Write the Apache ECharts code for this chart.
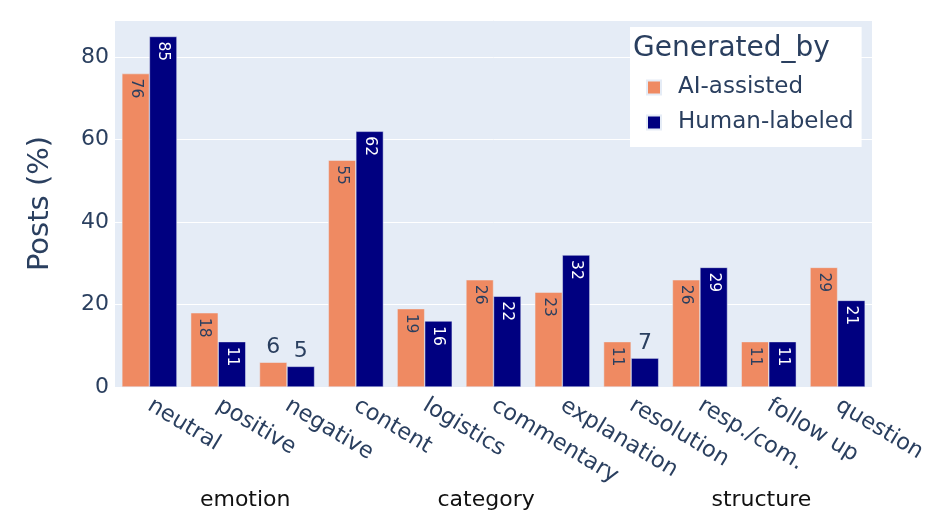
<!DOCTYPE html>
<html>
<head>
<meta charset="utf-8">
<script src="https://cdn.jsdelivr.net/npm/echarts@6/dist/echarts.min.js"></script>
<style>
html,body{margin:0;padding:0;background:#fff;}
#chart{width:935px;height:522px;}
</style>
</head>
<body>
<div id="chart"></div>
<script>
const categories = ['neutral','positive','negative','content','logistics','commentary','explanation','resolution','resp./com.','follow up','question'];
const aiAssisted = [76,18,6,55,19,26,23,11,26,11,29];
const humanLabeled = [85,11,5,62,16,22,32,7,29,11,21];
const groupNames = ['emotion','category','structure'];
const groupFirst = [0,3,7];
const groupLast = [2,6,10];
const yTicks = [0,20,40,60,80];
const legendTitle = 'Generated_by';
const seriesNames = ['AI-assisted','Human-labeled'];

const FONT = 'DejaVu Sans';
const TXT = '#2a3f5f';

function makeData(vals, insideColor){
  return vals.map(v => {
    if (v < 10) {
      return {value: v, label: {show: true, position: 'top', rotate: 0, fontSize: 22, color: TXT, distance: 4, align: 'center', verticalAlign: 'bottom'}};
    }
    return {value: v, label: {show: true, position: 'insideTop', rotate: -90, align: 'left', verticalAlign: 'middle', distance: 5, fontSize: 15.5, color: insideColor}};
  });
}

const chart = echarts.init(document.getElementById('chart'), null, {renderer: 'canvas'});
const option = {
  animation: false,
  textStyle: {fontFamily: FONT},
  grid: {left: 115, right: 63, top: 20, bottom: 135, show: true, backgroundColor: '#E5ECF6', borderWidth: 0},
  legend: {
    orient: 'vertical', left: 630, top: 27,
    backgroundColor: '#ffffff',
    padding: [49, 8, 13, 16],
    itemWidth: 14, itemHeight: 14, itemGap: 12,
    icon: 'rect',
    textStyle: {fontFamily: FONT, fontSize: 23, color: TXT, lineHeight: 23, padding: [0,0,0,12]},
    data: seriesNames
  },
  xAxis: {
    type: 'category', data: categories,
    axisLine: {show: false}, axisTick: {show: false},
    axisLabel: {rotate: -31, fontSize: 22.5, color: TXT, margin: 17, fontFamily: FONT, interval: 0}
  },
  yAxis: {
    type: 'value', min: 0, max: 89, interval: 20,
    name: 'Posts (%)', nameLocation: 'middle', nameGap: 60,
    nameTextStyle: {fontSize: 29, color: TXT, fontFamily: FONT},
    axisLine: {show: false}, axisTick: {show: false},
    axisLabel: {fontSize: 22, color: TXT, margin: 6, fontFamily: FONT, showMaxLabel: false,
      formatter: v => (yTicks.indexOf(v) >= 0 ? String(v) : '')},
    splitLine: {show: true, lineStyle: {color: '#ffffff', width: 1}}
  },
  series: [
    {name: seriesNames[0], type: 'bar', data: makeData(aiAssisted, TXT), barGap: '0%', barCategoryGap: '20%',
      itemStyle: {color: '#ef8a62', borderColor: '#E5ECF6', borderWidth: 0.5}},
    {name: seriesNames[1], type: 'bar', data: makeData(humanLabeled, '#ffffff'), barGap: '0%', barCategoryGap: '20%',
      itemStyle: {color: '#000080', borderColor: '#E5ECF6', borderWidth: 0.5}}
  ]
};
chart.setOption(option);

const graphics = [{
  type: 'text', left: 633, top: 35, z: 100,
  style: {text: legendTitle, fontSize: 28, fill: TXT, fontFamily: FONT}
}];
groupNames.forEach((g, i) => {
  const x1 = chart.convertToPixel({xAxisIndex: 0}, categories[groupFirst[i]]);
  const x2 = chart.convertToPixel({xAxisIndex: 0}, categories[groupLast[i]]);
  graphics.push({
    type: 'text', z: 100,
    x: (x1 + x2) / 2 + 27, y: 500,
    style: {text: g, fontSize: 22, fill: '#111', fontFamily: FONT, align: 'center', verticalAlign: 'middle'}
  });
});
chart.setOption({graphic: graphics});
</script>
</body>
</html>
